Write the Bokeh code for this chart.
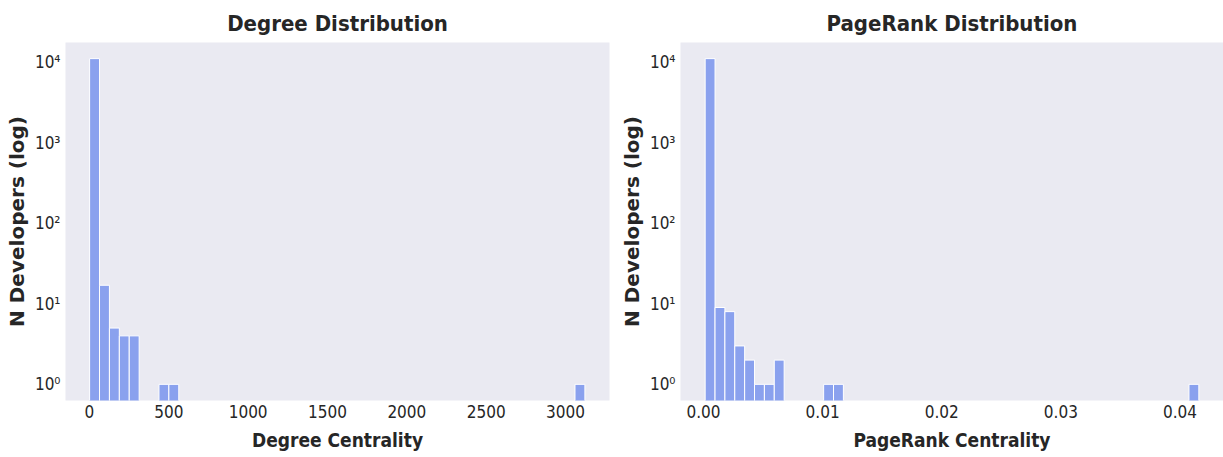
import numpy as np
from bokeh.plotting import figure
from bokeh.layouts import row
from bokeh.models import Range1d, FixedTicker, ColumnDataSource, NumeralTickFormatter
from bokeh.embed import file_html
from bokeh.resources import INLINE

# ---------------- data (histograms, 50 bins each) ----------------
N_BINS = 50

degree_min = 1
degree_max = 3122
degree_bin_index = [0, 1, 2, 3, 4, 7, 8, 49]
degree_counts = [11100, 17, 5, 4, 4, 1, 1, 1]

pagerank_min = 0.00014
pagerank_max = 0.04158
pagerank_bin_index = [0, 1, 2, 3, 4, 5, 6, 7, 12, 13, 49]
pagerank_counts = [11100, 9, 8, 3, 2, 1, 1, 2, 1, 1, 1]

degree_ticks = [0, 500, 1000, 1500, 2000, 2500, 3000]
pagerank_ticks = [0.0, 0.01, 0.02, 0.03, 0.04]
log_ticks = [1, 10, 100, 1000, 10000]
log_labels = ["10⁰", "10¹", "10²", "10³", "10⁴"]

BG = "#EAEAF2"
BAR = "#8AA1EE"
TXT = "#262626"
COND = "DejaVu Sans Condensed"


def hist_source(vmin, vmax, idx, counts):
    w = (vmax - vmin) / N_BINS
    left = [vmin + i * w for i in idx]
    right = [l + w for l in left]
    return ColumnDataSource(dict(left=left, right=right, top=counts,
                                 bottom=[0.01] * len(counts)))


def make_panel(title, xlabel, src, xr, xticks, width, bl, br, fmt=None):
    p = figure(width=width, height=457, x_range=Range1d(*xr),
               y_range=Range1d(0.63, 17600), y_axis_type="log",
               output_backend="svg", toolbar_location=None,
               min_border_left=bl, min_border_right=br,
               min_border_top=42, min_border_bottom=57)
    p.background_fill_color = BG
    p.border_fill_color = "white"
    p.outline_line_color = None
    p.grid.grid_line_color = None
    p.quad(left="left", right="right", top="top", bottom="bottom", source=src,
           fill_color=BAR, line_color="white", line_width=1)

    p.title.text = title
    p.title.align = "center"
    p.title.text_font = COND
    p.title.text_font_size = "22px"
    p.title.text_font_style = "bold"
    p.title.text_color = TXT
    p.title.standoff = 13

    for ax in (p.xaxis[0], p.yaxis[0]):
        ax.axis_line_color = None
        ax.major_tick_line_color = None
        ax.minor_tick_line_color = None
        ax.major_tick_in = 0
        ax.major_tick_out = 0
        ax.minor_tick_out = 0
        ax.major_label_text_font = COND
        ax.major_label_text_font_size = "17px"
        ax.major_label_text_color = TXT
        ax.axis_label_text_color = TXT

    p.xaxis.ticker = FixedTicker(ticks=xticks)
    if fmt:
        p.xaxis.formatter = NumeralTickFormatter(format=fmt)
    p.xaxis.major_label_standoff = 4
    p.xaxis.axis_label = xlabel
    p.xaxis.axis_label_text_font = COND
    p.xaxis.axis_label_text_font_size = "19px"
    p.xaxis.axis_label_text_font_style = "bold"
    p.xaxis.axis_label_standoff = 8

    p.yaxis.ticker = FixedTicker(ticks=log_ticks)
    p.yaxis.major_label_overrides = {t: l for t, l in zip(log_ticks, log_labels)}
    p.yaxis.major_label_standoff = 5
    p.yaxis.axis_label = "N Developers (log)"
    p.yaxis.axis_label_text_font = "DejaVu Sans"
    p.yaxis.axis_label_text_font_size = "20px"
    p.yaxis.axis_label_text_font_style = "bold"
    p.yaxis.axis_label_standoff = 3
    return p


p1 = make_panel("Degree Distribution", "Degree Centrality",
                hist_source(degree_min, degree_max, degree_bin_index, degree_counts),
                (-151, 3277), degree_ticks, 612, 65, 3)
p2 = make_panel("PageRank Distribution", "PageRank Centrality",
                hist_source(pagerank_min, pagerank_max, pagerank_bin_index, pagerank_counts),
                (-0.00193, 0.04365), pagerank_ticks, 611, 68, 0, fmt="0.00")

layout = row(p1, p2)
open("out.html", "w").write(file_html(layout, INLINE))
